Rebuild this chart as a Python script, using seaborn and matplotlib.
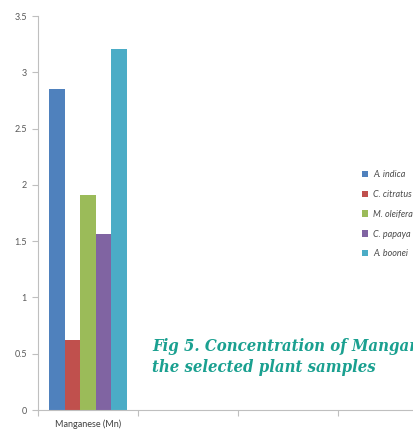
import matplotlib
matplotlib.use("Agg")
import matplotlib.pyplot as plt
import seaborn as sns
import pandas as pd

# Manganese concentration per plant sample
metal = ["Manganese (Mn)"]
species = ["A. indica", "C. citratus", "M. oleifera", "C. papaya", "A. boonei"]
manganese = [2.85, 0.62, 1.91, 1.56, 3.21]
colors = ["#4F81BD", "#C0504D", "#9BBB59", "#8064A2", "#4BACC6"]
yticks = [0, 0.5, 1, 1.5, 2, 2.5, 3, 3.5]
ytick_labels = ["0", "0.5", "1", "1.5", "2", "2.5", "3", "3.5"]

df = pd.DataFrame({
    "metal": metal * len(species),
    "species": species,
    "value": manganese,
})

sns.set_theme(style="white")
plt.rcParams["font.family"] = ["Lato", "DejaVu Sans"]

fig = plt.figure(figsize=(4.13, 4.32), dpi=100)
ax = fig.add_axes([38 / 413, 22 / 432, 375 / 413, 394 / 432])

sns.barplot(data=df, x="metal", y="value", hue="species", hue_order=species,
            palette=colors, width=0.78, gap=0, saturation=1, ax=ax,
            edgecolor="none", linewidth=0, legend=True)

ax.set_xlim(-0.5, 3.25)
ax.set_ylim(0, 3.5)
ax.set_yticks(yticks)
ax.set_yticklabels(ytick_labels)
ax.set_xlabel("")
ax.set_ylabel("")

# category boundaries get tick marks, the label itself does not
ax.set_xticks([0])
ax.set_xticklabels(metal)
ax.set_xticks([-0.5, 0.5, 1.5, 2.5], minor=True)
ax.tick_params(axis="x", which="major", length=0, pad=7, labelsize=6.5, labelcolor="#404040")
ax.tick_params(axis="x", which="minor", length=4, width=0.8, color="#BFBFBF", direction="out", bottom=True)
ax.tick_params(axis="y", length=4, width=0.8, color="#BFBFBF", direction="out", left=True,
               pad=4, labelsize=6.5, labelcolor="#595959")

for side in ["top", "right"]:
    ax.spines[side].set_visible(False)
for side in ["left", "bottom"]:
    ax.spines[side].set_color("#BFBFBF")
    ax.spines[side].set_linewidth(0.8)

handles, labels = ax.get_legend_handles_labels()
leg = ax.legend(handles, labels, loc="upper left", bbox_to_anchor=(362 / 413, 1 - 170 / 432),
                bbox_transform=fig.transFigure, frameon=False, fontsize=6.5,
                handlelength=0.7, handleheight=0.7, handletextpad=0.5,
                labelspacing=1.2, borderaxespad=0, borderpad=0)
for t in leg.get_texts():
    t.set_fontstyle("italic")
    t.set_color("#4A4A4A")

fig.text(152 / 413, 1 - 357 / 432,
         "Fig 5. Concentration of Manganese in\nthe selected plant samples",
         ha="left", va="center", color="#1AA090", fontsize=12,
         fontstyle="italic", fontweight="bold", fontstretch="condensed",
         family=["DejaVu Serif"], linespacing=1.32)

fig.savefig("out.png", dpi=100)
